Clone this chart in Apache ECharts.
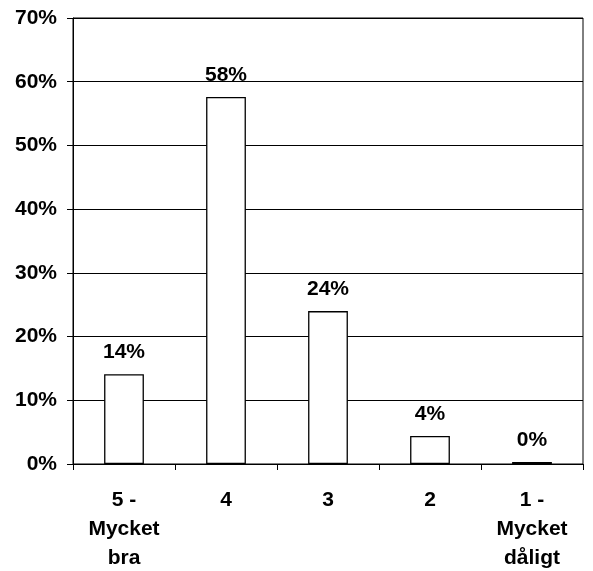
<!DOCTYPE html>
<html><head><meta charset="utf-8">
<script src="https://cdn.jsdelivr.net/npm/echarts@6/dist/echarts.min.js"></script>
<style>html,body{margin:0;padding:0;background:#fff}#c{width:593px;height:571px}</style>
</head><body><div id="c"></div>
<script>
const categories = ["5 -\nMycket\nbra", "4", "3", "2", "1 -\nMycket\ndåligt"];
const values = [14.1, 57.6, 24.0, 4.4, 0.3];
const yTicks = [0, 10, 20, 30, 40, 50, 60, 70];

const chart = echarts.init(document.getElementById('c'));
const font = {fontFamily: 'Liberation Sans, Arial, sans-serif', fontWeight: 'bold', fontSize: 21, color: '#000'};
chart.setOption({
  animation: false,
  grid: {left: 73, right: 10, top: 18, bottom: 107, outerBoundsMode: 'none', containLabel: false, show: true, borderColor: '#000', borderWidth: 1},
  xAxis: {
    type: 'category', data: categories,
    axisLine: {lineStyle: {color: '#000', width: 1}},
    axisTick: {show: true, length: 6, lineStyle: {color: '#000'}},
    axisLabel: Object.assign({}, font, {margin: 22, lineHeight: 29, interval: 0})
  },
  yAxis: {
    type: 'value', min: 0, max: 70, interval: 10,
    axisLine: {show: true, lineStyle: {color: '#000'}},
    axisTick: {show: true, length: 6, lineStyle: {color: '#000'}},
    splitLine: {lineStyle: {color: '#000', width: 1}},
    axisLabel: Object.assign({}, font, {margin: 16, formatter: v => yTicks.includes(v) ? v + '%' : ''})
  },
  series: [{
    type: 'bar', data: values, barWidth: '39%',
    itemStyle: {color: '#fff', borderColor: '#000', borderWidth: 1.3},
    label: Object.assign({}, font, {show: true, position: 'top', distance: 11, formatter: p => Math.round(p.value) + '%'})
  }]
});
</script></body></html>
